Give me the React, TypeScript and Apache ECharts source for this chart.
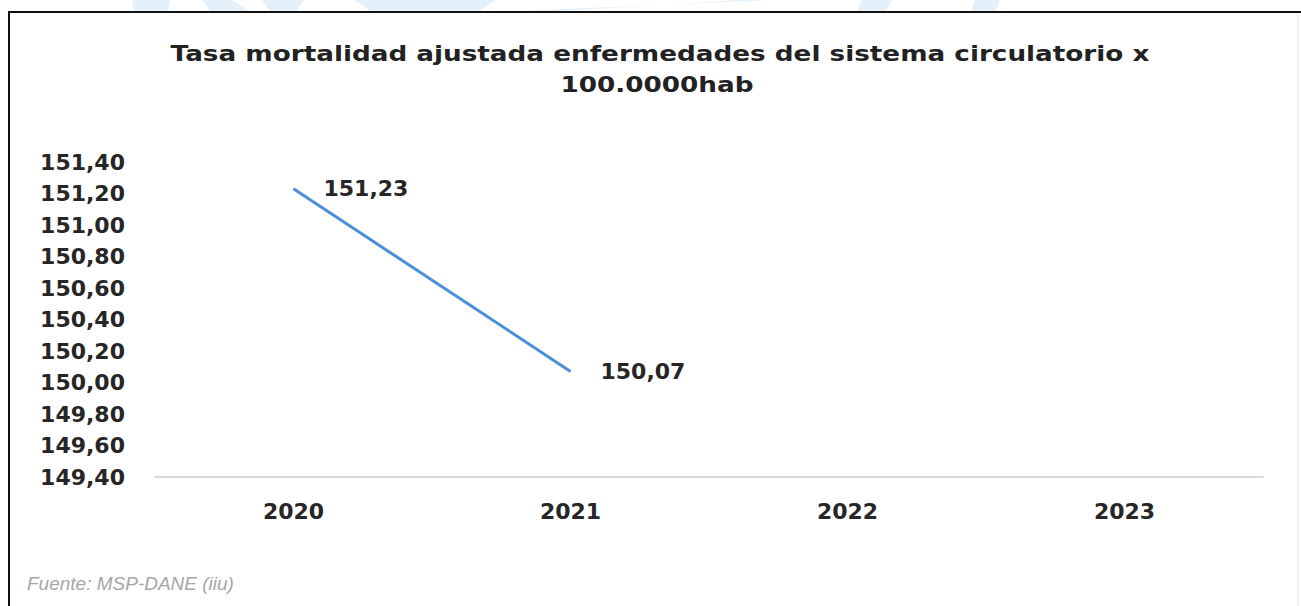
import React, { useEffect, useRef } from "react";
import * as echarts from "echarts";

const titleLines = [
  "Tasa mortalidad ajustada enfermedades del sistema circulatorio x",
  "100.0000hab",
];
const categories = ["2020", "2021", "2022", "2023"];
const values: (number | null)[] = [151.23, 150.07, null, null];
const yMin = 149.4;
const yMax = 151.4;
const yStep = 0.2;
const sourceNote = "Fuente: MSP-DANE (iiu)";

const fmt = (v: number) => v.toFixed(2).replace(".", ",");

export default function App() {
  const ref = useRef<HTMLDivElement>(null);
  useEffect(() => {
    if (!ref.current) return;
    const chart = echarts.init(ref.current, null, { renderer: "svg" });
    const font = "DejaVu Sans";
    const wm = "#e4f0fa";
    const textColor = "#262626";
    chart.setOption({
      animation: false,
      backgroundColor: "#ffffff",
      grid: { left: 155, right: 38, top: 162, bottom: 129 },
      xAxis: {
        type: "category",
        data: categories,
        boundaryGap: true,
        axisLine: { show: true, lineStyle: { color: "#d9d9d9", width: 2 } },
        axisTick: { show: false },
        axisLabel: {
          margin: 23,
          fontFamily: font,
          fontWeight: "bold",
          fontSize: 22,
          color: textColor,
        },
        splitLine: { show: false },
      },
      yAxis: {
        type: "value",
        min: yMin,
        max: yMax,
        interval: yStep,
        axisLine: { show: false },
        axisTick: { show: false },
        splitLine: { show: false },
        axisLabel: {
          margin: 30,
          fontFamily: font,
          fontWeight: "bold",
          fontSize: 22,
          color: textColor,
          formatter: (v: number) => fmt(v),
        },
      },
      series: [
        {
          type: "line",
          data: values,
          symbol: "circle",
          symbolSize: 0,
          showSymbol: true,
          connectNulls: false,
          lineStyle: { color: "#4a8fd8", width: 3 },
          itemStyle: { color: "#4a8fd8" },
          label: {
            show: true,
            position: "right",
            distance: 30,
            fontFamily: font,
            fontWeight: "bold",
            fontSize: 22,
            color: textColor,
            formatter: (p: any) => fmt(p.value),
          },
        },
      ],
      graphic: [
        { type: "polygon", shape: { points: [[132, 0], [170, 0], [168, 11], [134, 11]] }, style: { fill: wm } },
        { type: "polygon", shape: { points: [[202, 0], [232, 0], [250, 11], [210, 11]] }, style: { fill: wm } },
        { type: "polygon", shape: { points: [[262, 0], [304, 0], [296, 11], [270, 11]] }, style: { fill: wm } },
        { type: "polygon", shape: { points: [[355, 0], [495, 0], [480, 11], [370, 11]] }, style: { fill: wm } },
        { type: "polygon", shape: { points: [[520, 11], [770, 0], [740, 0], [560, 11]] }, style: { fill: wm } },
        { type: "polygon", shape: { points: [[862, 0], [892, 0], [886, 11], [858, 11]] }, style: { fill: wm } },
        { type: "polygon", shape: { points: [[975, 0], [1000, 0], [996, 11], [971, 11]] }, style: { fill: wm } },
        { type: "line", shape: { x1: 8, y1: 12, x2: 1301, y2: 12 }, style: { stroke: "#111111", lineWidth: 2 } },
        { type: "line", shape: { x1: 9, y1: 11, x2: 9, y2: 606 }, style: { stroke: "#111111", lineWidth: 2 } },
        { type: "line", shape: { x1: 1298, y1: 13, x2: 1298, y2: 606 }, style: { stroke: "#e6e6e6", lineWidth: 1 } },
        {
          type: "text",
          x: 660,
          y: 54,
          scaleX: 1.25,
          style: {
            text: titleLines[0],
            fontFamily: font,
            fontWeight: "bold",
            fontSize: 21,
            fill: "#222222",
            align: "center",
            verticalAlign: "middle",
          },
        },
        {
          type: "text",
          x: 657,
          y: 85,
          scaleX: 1.25,
          style: {
            text: titleLines[1],
            fontFamily: font,
            fontWeight: "bold",
            fontSize: 21,
            fill: "#222222",
            align: "center",
            verticalAlign: "middle",
          },
        },
        {
          type: "text",
          x: 27,
          y: 583,
          style: {
            text: sourceNote,
            fontFamily: "Liberation Sans",
            fontStyle: "italic",
            fontSize: 19,
            fill: "#a6a6a6",
            verticalAlign: "middle",
          },
        },
      ],
    });
    return () => chart.dispose();
  }, []);
  return (
    <div
      ref={ref}
      style={{ position: "fixed", left: 0, top: 0, width: 1301, height: 606 }}
    />
  );
}
